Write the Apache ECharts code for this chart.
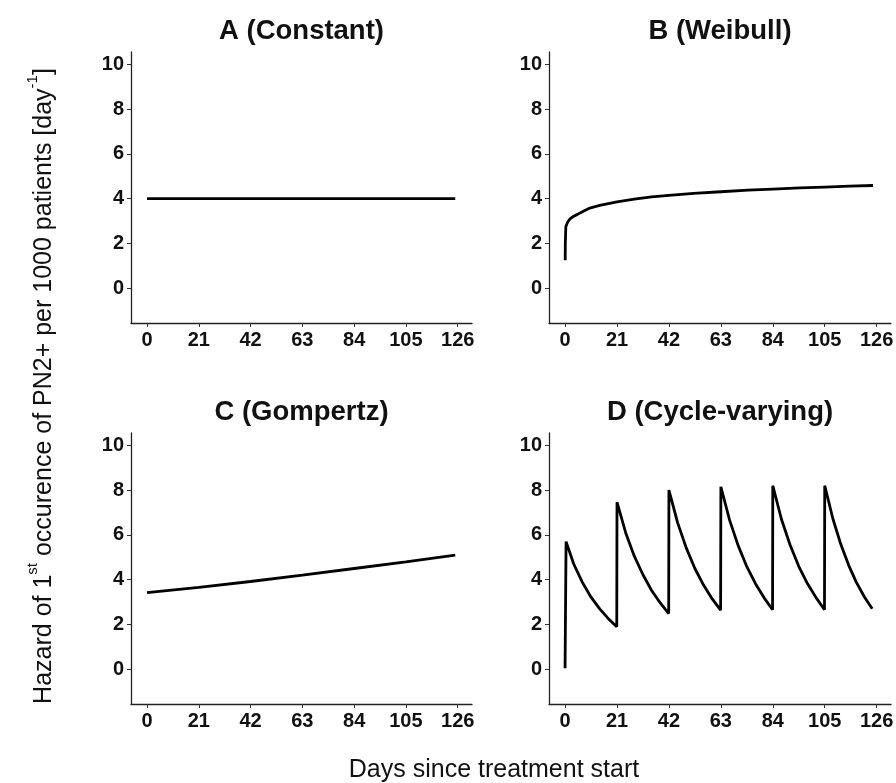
<!DOCTYPE html>
<html>
<head>
<meta charset="utf-8">
<script src="https://cdn.jsdelivr.net/npm/echarts@6/dist/echarts.min.js"></script>
<style>
html,body{margin:0;padding:0;background:#fff;}
#chart{width:896px;height:783px;}
</style>
</head>
<body>
<div id="chart"></div>
<script>
// ---- data ----
const panelTitles = ['A (Constant)', 'B (Weibull)', 'C (Gompertz)', 'D (Cycle-varying)'];
const dayTicks = [0, 21, 42, 63, 84, 105, 126];
const hazardTicks = [0, 2, 4, 6, 8, 10];

const constantX = [0, 125];
const constantY = [4.0, 4.0];

const weibullX = [0.05, 0.1, 0.3, 1, 2, 3.5, 5, 7, 10, 14, 21, 28, 35, 42, 52, 63, 74, 84, 95, 105, 115, 124.5];
const weibullY = [1.25, 2.0, 2.75, 2.95, 3.1, 3.22, 3.3, 3.42, 3.58, 3.7, 3.86, 3.98, 4.08, 4.15, 4.24, 4.31, 4.38, 4.43, 4.48, 4.52, 4.56, 4.59];

const gompertzX = [0, 21, 42, 63, 84, 105, 125];
const gompertzY = [3.42, 3.66, 3.92, 4.2, 4.5, 4.8, 5.1];

const cycleX = [0, 0.4, 3.5, 7, 10.5, 14, 17.5, 20.9,
  21.0, 24.5, 28, 31.5, 35, 38.5, 41.9,
  42.0, 45.5, 49, 52.5, 56, 59.5, 62.9,
  63.0, 66.5, 70, 73.5, 77, 80.5, 83.9,
  84.0, 87.5, 91, 94.5, 98, 101.5, 104.9,
  105.0, 108.3, 111.5, 114.7, 117.8, 121, 124.2];
const cycleY = [0.05, 5.7, 4.7, 3.88, 3.22, 2.7, 2.26, 1.9,
  7.46, 6.1, 5.05, 4.22, 3.52, 2.96, 2.49,
  8.0, 6.55, 5.42, 4.5, 3.76, 3.14, 2.64,
  8.15, 6.67, 5.52, 4.58, 3.82, 3.19, 2.66,
  8.2, 6.7, 5.55, 4.6, 3.83, 3.2, 2.66,
  8.2, 6.72, 5.58, 4.64, 3.88, 3.24, 2.7];

// ---- layout ----
const FONT = "'Liberation Sans', Arial, sans-serif";
const grids = [
  {left: 131, top: 52, width: 341, height: 271},
  {left: 549, top: 52, width: 342, height: 271},
  {left: 131, top: 433, width: 341, height: 271},
  {left: 549, top: 433, width: 342, height: 271}
];
const seriesPairs = [[constantX, constantY], [weibullX, weibullY], [gompertzX, gompertzY], [cycleX, cycleY]];

function zip(xs, ys) { return xs.map((x, i) => [x, ys[i]]); }

const option = {
  animation: false,
  backgroundColor: '#fff',
  title: grids.map((g, i) => ({
    text: panelTitles[i],
    left: g.left + g.width / 2,
    top: g.top - 35,
    textAlign: 'center',
    padding: 0,
    textStyle: {fontFamily: FONT, fontWeight: 'bold', fontSize: 27.5, color: '#111'}
  })),
  grid: grids.map(g => Object.assign({outerBoundsMode: 'none', containLabel: false}, g)),
  xAxis: grids.map((g, i) => ({
    type: 'value', gridIndex: i, min: -6.5, max: 131.8,
    splitLine: {show: false},
    axisLine: {show: true, onZero: false, lineStyle: {color: '#222', width: 1.3}},
    axisTick: {show: true, length: 4, customValues: dayTicks, lineStyle: {color: '#333', width: 1}},
    axisLabel: {customValues: dayTicks, margin: 7, fontFamily: FONT, fontWeight: 'bold', fontSize: 20, color: '#111'}
  })),
  yAxis: grids.map((g, i) => ({
    type: 'value', gridIndex: i, min: -1.55, max: 10.55,
    splitLine: {show: false},
    axisLine: {show: true, onZero: false, lineStyle: {color: '#222', width: 1.3}},
    axisTick: {show: true, length: 4, customValues: hazardTicks, lineStyle: {color: '#333', width: 1}},
    axisLabel: {customValues: hazardTicks, margin: 7, fontFamily: FONT, fontWeight: 'bold', fontSize: 20, color: '#111'}
  })),
  series: seriesPairs.map((p, i) => ({
    type: 'line', xAxisIndex: i, yAxisIndex: i,
    data: zip(p[0], p[1]),
    showSymbol: false, symbol: 'none',
    lineStyle: {color: '#000', width: 2.8},
    z: 3
  })),
  graphic: [
    {
      type: 'text', x: 494, y: 770,
      style: {text: 'Days since treatment start', font: '25px ' + FONT, fill: '#111',
        align: 'center', verticalAlign: 'middle', textAlign: 'center', textVerticalAlign: 'middle'}
    },
    {
      type: 'text', x: 41, y: 386, rotation: Math.PI / 2,
      style: {
        text: '{m|Hazard of 1}{s|st}{m| occurence of PN2+ per 1000 patients [day}{s|-1}{m|]}',
        align: 'center', verticalAlign: 'middle', textAlign: 'center', textVerticalAlign: 'middle',
        fill: '#111',
        rich: {
          m: {fontFamily: FONT, fontSize: 25, color: '#111', verticalAlign: 'bottom', lineHeight: 31},
          s: {fontFamily: FONT, fontSize: 15, color: '#111', verticalAlign: 'top', lineHeight: 31}
        }
      }
    }
  ]
};

const chart = echarts.init(document.getElementById('chart'), null, {renderer: 'canvas'});
chart.setOption(option);
</script>
</body>
</html>
